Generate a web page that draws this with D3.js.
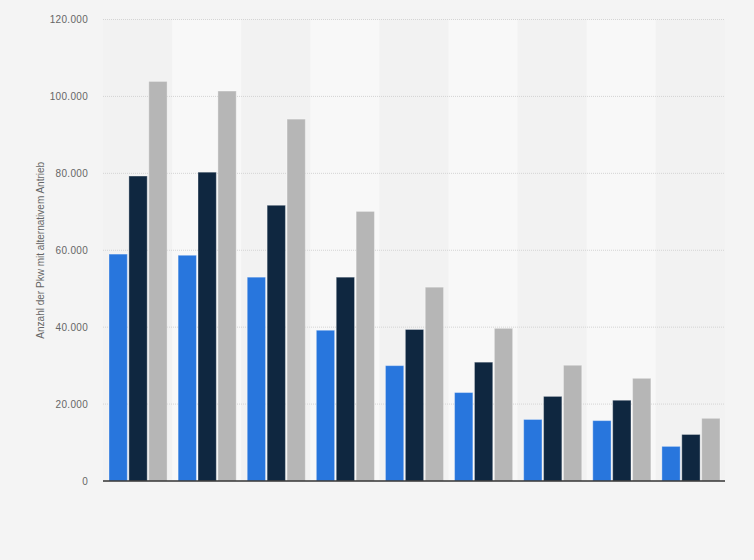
<!DOCTYPE html>
<html>
<head>
<meta charset="utf-8">
<script src="https://cdn.jsdelivr.net/npm/d3@7"></script>
<style>
  body { margin: 0; background: #f4f4f4; }
  svg { display: block; font-family: "Liberation Sans", Arial, sans-serif; }
</style>
</head>
<body>
<div id="chart"></div>
<script>
// categories (no labels shown in the picture) and series
var categories = ["1", "2", "3", "4", "5", "6", "7", "8", "9"];
var seriesNames = ["Serie 1", "Serie 2", "Serie 3"];
var seriesColors = ["#2876dd", "#0f2740", "#b6b6b6"];

var serie1 = [59000, 58700, 53000, 39200, 30000, 23000, 16000, 15700, 9000];
var serie2 = [79300, 80300, 71700, 53000, 39400, 30900, 22000, 21000, 12100];
var serie3 = [103900, 101400, 94100, 70100, 50400, 39700, 30100, 26700, 16300];

var yTicks = [0, 20000, 40000, 60000, 80000, 100000, 120000];

var seriesValues = [serie1, serie2, serie3];

var width = 754, height = 560;
var margin = { top: 19.5, right: 29, bottom: 79, left: 103 };
var w = width - margin.left - margin.right,
    h = height - margin.top - margin.bottom;

var svg = d3.select("#chart")
  .append("svg")
  .attr("width", width)
  .attr("height", height);

svg.append("rect")
  .attr("width", width)
  .attr("height", height)
  .attr("fill", "#f4f4f4");

var g = svg.append("g")
  .attr("transform", "translate(" + margin.left + "," + margin.top + ")");

var x0 = d3.scaleBand()
  .domain(categories)
  .range([0, w])
  .padding(0);

var x1 = d3.scaleBand()
  .domain(seriesNames)
  .range([6, x0.bandwidth() - 5])
  .paddingInner(0.08);

var y = d3.scaleLinear()
  .domain([0, 120000])
  .range([h, 0]);

// alternating background bands
g.selectAll("rect.band")
  .data(categories)
  .enter()
  .append("rect")
  .attr("class", "band")
  .attr("x", function(d) { return x0(d); })
  .attr("y", 0)
  .attr("width", x0.bandwidth())
  .attr("height", h)
  .attr("fill", function(d, i) { return i % 2 ? "#f8f8f8" : "#f2f2f2"; });

// grid lines
g.selectAll("line.grid")
  .data(yTicks.filter(function(d) { return d > 0; }))
  .enter()
  .append("line")
  .attr("class", "grid")
  .attr("x1", 0)
  .attr("x2", w)
  .attr("y1", function(d) { return y(d); })
  .attr("y2", function(d) { return y(d); })
  .attr("stroke", "#d4d4d4")
  .attr("stroke-width", 1)
  .attr("stroke-dasharray", "1,1");

// y axis labels
var fmt = function(d) { return d3.format(",")(d).replace(/,/g, "."); };
var yAxis = g.append("g")
  .call(d3.axisLeft(y).tickValues(yTicks).tickSize(0).tickPadding(15).tickFormat(fmt));
yAxis.select(".domain").remove();
yAxis.selectAll("text")
  .attr("fill", "#666")
  .style("font-size", "10px")
  .style("letter-spacing", "0.3px");

// bars
var groups = g.selectAll("g.group")
  .data(categories)
  .enter()
  .append("g")
  .attr("class", "group")
  .attr("transform", function(d) { return "translate(" + x0(d) + ",0)"; });

groups.selectAll("rect")
  .data(function(d, i) {
    return seriesNames.map(function(s, j) {
      return { series: s, value: seriesValues[j][i], color: seriesColors[j] };
    });
  })
  .enter()
  .append("rect")
  .attr("x", function(d) { return x1(d.series); })
  .attr("y", function(d) { return y(d.value); })
  .attr("width", x1.bandwidth())
  .attr("height", function(d) { return h - y(d.value); })
  .attr("fill", function(d) { return d.color; })
  .attr("stroke", "rgba(255,255,255,0.35)")
  .attr("stroke-width", 1);

// baseline
g.append("line")
  .attr("x1", 0)
  .attr("x2", w)
  .attr("y1", h)
  .attr("y2", h)
  .attr("stroke", "#333")
  .attr("stroke-width", 1.5);

// y axis title
svg.append("text")
  .attr("transform", "translate(44," + (margin.top + h / 2) + ") rotate(-90)")
  .attr("text-anchor", "middle")
  .attr("fill", "#666")
  .style("font-size", "10px")
  .text("Anzahl der Pkw mit alternativem Antrieb");
</script>
</body>
</html>
